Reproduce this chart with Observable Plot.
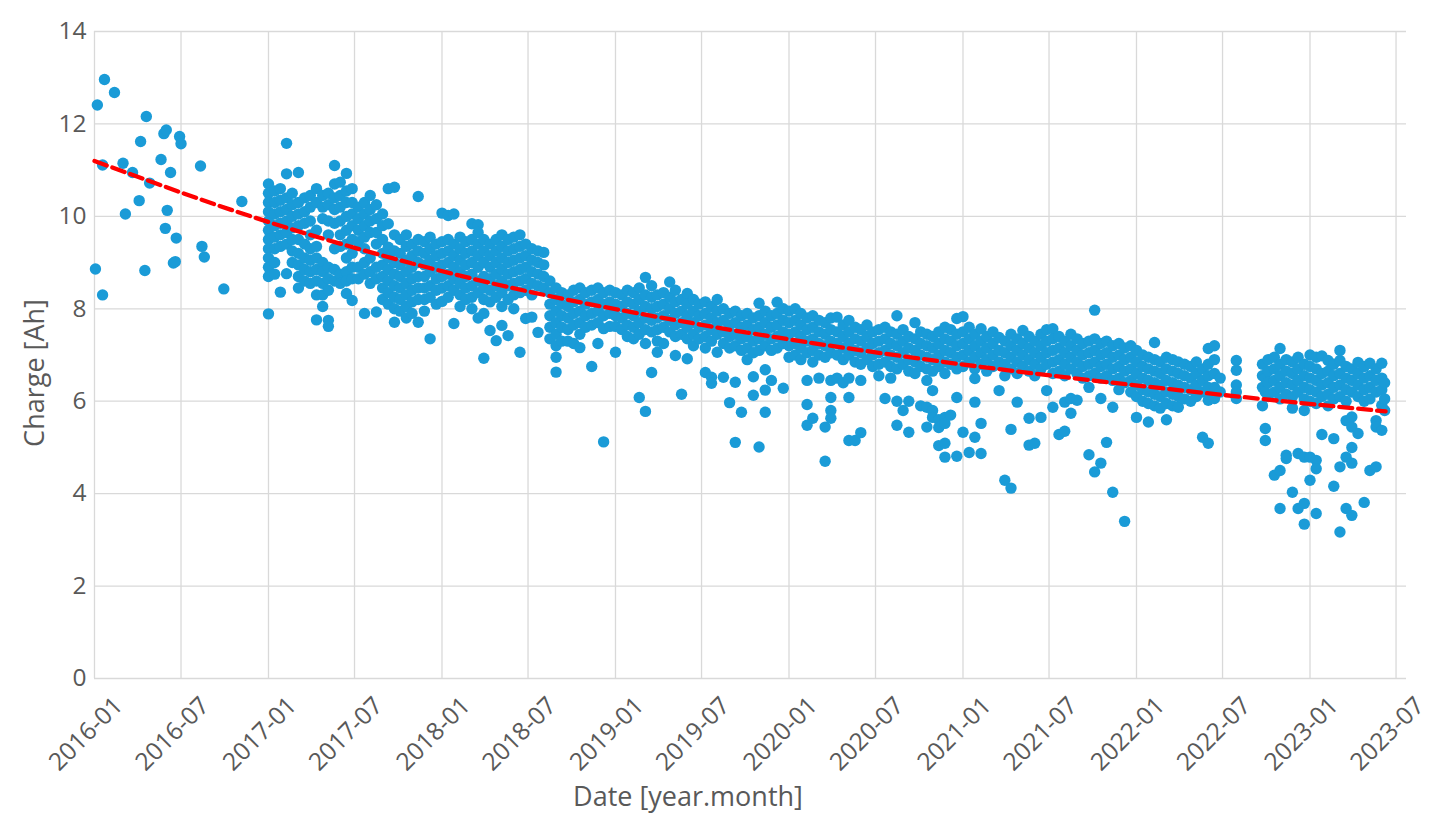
<!DOCTYPE html>
<html><head><meta charset="utf-8">
<script src="https://cdn.jsdelivr.net/npm/d3@7"></script>
<script src="https://cdn.jsdelivr.net/npm/@observablehq/plot@0.6"></script>
<style>body{margin:0;background:#fff;} #chart svg{display:block;}</style>
</head><body><div id="chart"></div>
<script>
const yTicks = [0, 2, 4, 6, 8, 10, 12, 14];
const xTickLabels = ["2016-01","2016-07","2017-01","2017-07","2018-01","2018-07","2019-01","2019-07","2020-01","2020-07","2021-01","2021-07","2022-01","2022-07","2023-01","2023-07"];
const xTitle = "Date [year.month]";
const yTitle = "Charge [Ah]";

// rows: [day of year, charge values measured around that day...]
const c2016 = [[2,8.86],[6,12.41],[17,11.11],[17,8.30],[21,12.96],[42,12.68],[60,11.15],[65,10.05],[80,10.95],[94,10.34],[97,11.62],[106,8.83],[109,12.16],[116,10.72],[140,11.23],[146,11.79],[149,9.74],[151,11.87],[153,10.13],[160,10.95],[166,8.99],[170,9.02],[172,9.53],[179,11.73],[182,11.57],[223,11.09],[226,9.35],[231,9.12],[272,8.43],[310,10.32]];
const c2017 = [
[0,10.7,10.5,10.3,10.1,9.9,9.7,9.5,9.3,9.1,8.9,8.7,7.89],
[13,10.55,10.3,10.05,9.8,9.55,9.3,9.0,8.75],
[25,10.6,10.35,10.1,9.85,9.6,9.35,8.36],
[38,11.58,10.92,10.4,10.15,9.9,9.65,9.4,8.76],
[50,10.5,10.25,10.0,9.75,9.5,9.25,9.0],
[63,10.95,10.3,10.05,9.8,9.5,9.2,8.95,8.7,8.45],
[76,10.4,10.1,9.85,9.4,9.1,8.85,8.6],
[88,10.45,10.2,9.9,9.6,9.3,9.05,8.8,8.55],
[101,10.6,10.3,9.7,9.35,9.1,8.85,8.6,8.3,7.76],
[114,10.45,10.2,9.95,9.0,8.8,8.55,8.3,8.05],
[126,10.5,10.25,9.9,9.6,8.9,8.65,8.4,7.75,7.62],
[139,11.1,10.7,10.4,10.15,9.85,9.3,8.85,8.6],
[151,10.74,10.45,10.2,9.9,9.6,9.35,8.75,8.55],
[164,10.93,10.55,10.3,10.0,9.7,9.4,9.1,8.8,8.6,8.33],
[176,10.6,10.3,10.05,9.8,9.5,9.2,8.9,8.65,8.18],
[189,10.2,9.95,9.7,9.45,8.9,8.65],
[202,10.3,10.05,9.8,9.55,9.3,9.0,8.75,7.9],
[214,10.45,10.15,9.9,9.65,9.1,8.8,8.55],
[227,10.25,9.95,9.65,9.4,8.9,8.65,7.93],
[240,10.05,9.8,9.5,9.2,8.95,8.7,8.45,8.2],
[252,10.6,9.84,9.33,9.1,8.85,8.6,8.35,8.1],
[265,10.63,9.6,9.25,9.0,8.75,8.5,8.25,8.0,7.71],
[277,9.5,9.2,8.95,8.7,8.45,8.2,7.95],
[290,9.6,9.35,9.05,8.8,8.55,8.3,8.05,7.8],
[302,9.4,9.15,8.9,8.65,8.4,8.15,7.9],
[315,10.43,9.5,9.25,9.0,8.7,8.45,8.2,7.71],
[328,9.45,9.2,8.95,8.7,8.45,8.2,7.95],
[340,9.55,9.3,9.05,8.8,8.5,8.25,7.35],
[353,9.4,9.15,8.9,8.65,8.4,8.1]];
const c2018 = [
[0,10.07,9.45,9.2,8.95,8.7,8.45,8.16],
[13,10.02,9.5,9.25,9.0,8.75,8.5,8.25],
[25,10.05,9.4,9.15,8.9,8.65,8.4,7.68],
[38,9.55,9.3,9.05,8.8,8.55,8.3,8.05],
[50,9.45,9.2,8.95,8.7,8.45,8.2],
[63,9.84,9.5,9.25,9.0,8.75,8.5,8.25,8.0],
[76,9.82,9.65,9.4,9.15,8.9,8.6,8.35,7.8],
[88,9.5,9.25,9.0,8.7,8.45,8.2,7.9,6.93],
[101,9.4,9.15,8.9,8.65,8.4,8.15,7.53],
[114,9.5,9.25,9.0,8.75,8.5,8.25,7.31],
[126,9.6,9.35,9.1,8.85,8.6,8.35,8.05,7.64],
[139,9.5,9.25,9.0,8.75,8.5,8.2,7.42],
[151,9.55,9.3,9.05,8.8,8.55,8.3,8.0],
[164,9.6,9.35,9.1,8.85,8.6,8.35,7.06],
[176,9.4,9.15,8.9,8.65,8.4,7.79],
[189,9.3,9.05,8.8,8.55,8.3,7.82],
[202,9.25,9.0,8.75,8.5,7.49],
[214,9.22,8.95,8.7,8.45],
[227,8.6,8.35,8.1,7.85,7.6,7.35],
[240,8.45,8.2,7.95,7.7,7.45,7.2,6.95,6.63],
[252,8.35,8.1,7.85,7.6,7.3],
[265,8.3,8.05,7.8,7.55,7.3],
[277,8.4,8.15,7.9,7.65,7.25],
[290,8.45,8.2,7.95,7.7,7.45,7.16],
[302,8.35,8.1,7.85,7.6],
[315,8.4,8.15,7.9,7.65,6.75],
[328,8.45,8.2,7.95,7.7,7.25],
[340,8.35,8.1,7.85,7.57,5.12],
[353,8.4,8.15,7.9,7.62]];
const c2019 = [
[0,8.35,8.1,7.85,7.62,7.06],
[13,8.3,8.05,7.8,7.55],
[25,8.4,8.15,7.9,7.65,7.4],
[38,8.35,8.1,7.85,7.6,7.35],
[50,8.45,8.2,7.95,7.7,7.45,6.08],
[63,8.68,8.3,8.05,7.8,7.55,7.25,5.78],
[76,8.5,8.25,8.0,7.75,7.5,6.62],
[88,8.3,8.05,7.8,7.55,7.3,7.06],
[101,8.35,8.1,7.85,7.6,7.25],
[114,8.58,8.25,8.0,7.75,7.5],
[126,8.4,8.15,7.9,7.65,7.4,6.99],
[139,8.2,7.95,7.7,7.45,6.15],
[151,8.33,8.1,7.85,7.6,7.35,6.92],
[164,8.2,7.95,7.7,7.45,7.2],
[176,8.1,7.85,7.6,7.35],
[189,8.15,7.9,7.65,7.4,7.15,6.62],
[202,8.05,7.8,7.55,7.3,6.52,6.39],
[214,8.2,7.95,7.7,7.45,7.06],
[227,8.0,7.75,7.5,7.25,6.52],
[240,7.9,7.65,7.4,7.15,5.97],
[252,7.95,7.7,7.45,7.2,6.41,5.11],
[265,7.85,7.6,7.35,7.1,5.76],
[277,7.9,7.65,7.4,7.15,6.9],
[290,7.8,7.55,7.3,7.05,6.53,6.13],
[302,8.12,7.85,7.6,7.35,7.1,5.01],
[315,7.95,7.7,7.45,7.2,6.68,6.24,5.76],
[328,7.85,7.6,7.35,7.1,6.45],
[340,8.14,7.9,7.65,7.4,7.15],
[353,8.0,7.75,7.5,7.25,6.28]];
const c2020 = [
[0,7.95,7.7,7.45,7.2,6.95],
[13,8.0,7.75,7.5,7.25,7.0],
[25,7.9,7.65,7.4,7.15,6.9],
[38,7.8,7.55,7.3,7.05,6.45,5.93,5.48],
[50,7.85,7.6,7.35,7.1,6.85,5.63],
[63,7.75,7.5,7.25,7.0,6.5],
[76,7.7,7.45,7.2,6.95,5.44,4.7],
[88,7.8,7.55,7.3,7.05,6.45,6.08,5.8,5.63],
[101,7.82,7.5,7.25,7.0,6.5],
[114,7.65,7.4,7.15,6.9,6.4],
[126,7.75,7.5,7.25,7.0,6.5,6.08,5.15],
[139,7.6,7.35,7.1,6.85,5.15],
[151,7.55,7.3,7.05,6.8,6.45,5.32],
[164,7.65,7.4,7.15,6.9],
[176,7.5,7.25,7.0,6.75],
[189,7.55,7.3,7.05,6.8,6.55],
[202,7.6,7.35,7.1,6.85,6.06],
[214,7.5,7.25,7.0,6.75,6.5],
[227,7.85,7.45,7.2,6.95,6.7,6.0,5.48],
[240,7.55,7.3,7.05,6.8,5.8],
[252,7.4,7.15,6.9,6.65,6.0,5.33],
[265,7.7,7.35,7.1,6.85,6.6],
[277,7.5,7.25,7.0,6.75,5.9],
[290,7.45,7.2,6.95,6.7,6.45,5.87,5.44],
[302,7.4,7.15,6.9,6.65,6.23,5.8,5.65],
[315,7.5,7.25,7.0,6.75,5.6,5.43,5.04],
[328,7.6,7.35,7.1,6.85,6.6,5.65,5.52,5.09,4.79],
[340,7.55,7.3,7.05,6.8,5.7],
[353,7.79,7.45,7.2,6.95,6.7,6.08,4.81]];
const c2021 = [
[0,7.83,7.5,7.25,7.0,6.75,5.33],
[13,7.6,7.35,7.1,6.85,4.89],
[25,7.45,7.2,6.95,6.7,6.49,5.98,5.22],
[38,7.57,7.3,7.05,6.8,5.52,4.87],
[50,7.4,7.15,6.9,6.65],
[63,7.5,7.25,7.0,6.75],
[76,7.38,7.1,6.85,6.23],
[88,7.3,7.05,6.8,6.55,4.29],
[101,7.45,7.2,6.95,6.7,5.39,4.12],
[114,7.35,7.1,6.85,6.6,5.98],
[126,7.53,7.25,7.0,6.75],
[139,7.4,7.15,6.9,6.65,5.63,5.05],
[151,7.3,7.05,6.8,6.55,5.09],
[164,7.45,7.2,6.95,6.7,5.65],
[176,7.55,7.3,7.05,6.8,6.23],
[189,7.57,7.35,7.1,6.85,6.6,5.87],
[202,7.4,7.15,6.9,6.65,5.28],
[214,7.3,7.05,6.8,6.55,5.98,5.35],
[227,7.45,7.2,6.95,6.7,6.06,5.74],
[240,7.35,7.1,6.85,6.6,6.02],
[252,7.25,7.0,6.75,6.5],
[265,7.3,7.05,6.8,6.55,6.3,4.84],
[277,7.97,7.35,7.1,6.85,6.6,4.47],
[290,7.25,7.0,6.75,6.5,6.06,4.66],
[302,7.3,7.05,6.8,6.55,5.11],
[315,7.2,6.95,6.7,6.45,5.87,4.03],
[328,7.25,7.0,6.75,6.5,6.25],
[340,7.15,6.9,6.65,6.4,3.4],
[353,7.2,6.95,6.7,6.45,6.2]];
const c2022 = [
[0,7.1,6.85,6.6,6.35,6.1,5.65],
[13,7.0,6.75,6.5,6.25,6.0],
[25,6.95,6.7,6.45,6.2,5.95,5.55],
[38,7.27,6.9,6.65,6.4,6.15,5.9],
[50,6.85,6.6,6.35,6.1,5.85],
[63,6.95,6.7,6.45,6.2,5.95,5.6],
[76,6.9,6.65,6.4,6.15,5.9],
[88,6.85,6.6,6.35,6.1,5.87],
[101,6.8,6.55,6.3,6.05],
[114,6.75,6.5,6.25,6.0],
[126,6.85,6.6,6.35,6.1],
[139,6.7,6.45,6.2,5.22],
[151,7.14,6.8,6.55,6.3,6.02,5.09],
[164,7.2,6.9,6.6,6.3,6.06],
[176,6.5,6.2],
[210,6.88,6.67,6.35,6.2,6.06],
[265,6.8,6.55,6.3,5.9],
[271,6.5,6.2,5.41,5.15],
[277,6.9,6.65,6.4,6.1],
[290,6.95,6.7,6.45,6.2,4.4],
[302,7.14,6.8,6.55,6.3,6.05,4.5,3.68],
[315,6.9,6.65,6.4,6.15,4.83,4.76],
[328,6.85,6.6,6.35,6.1,5.85,4.03],
[340,6.95,6.7,6.45,6.2,4.87,3.68],
[353,6.8,6.55,6.3,6.05,5.8,4.79,3.79,3.34]];
const c2023 = [
[0,7.0,6.75,6.5,6.25,6.0,4.79,4.29],
[13,6.95,6.7,6.45,6.2,5.95,4.72,4.54,3.57],
[25,6.98,6.6,6.35,6.1,5.28],
[38,6.88,6.65,6.4,6.15,5.9],
[50,6.8,6.55,6.3,6.05,5.19,4.16],
[63,7.1,6.88,6.6,6.35,6.1,4.58,3.17],
[76,6.75,6.5,6.25,6.0,5.58,4.79,3.68],
[88,6.7,6.45,6.2,5.66,5.44,5.0,4.66,3.53],
[101,6.84,6.6,6.35,6.1,5.3],
[114,6.75,6.5,6.25,6.0,3.81],
[126,6.82,6.55,6.3,6.05,4.5],
[139,6.7,6.45,6.2,5.58,5.44,4.58],
[151,6.82,6.5,6.25,5.91,5.37],
[157,6.4,6.05,5.8]];

const trendDates = ["2016-01-01","2016-12-01","2018-03-23","2019-07-20","2020-11-15","2022-03-13","2023-06-09"];
const trendValues = [11.2, 9.98, 8.61, 7.62, 6.86, 6.26, 5.78];

const years = [[2016, c2016],[2017, c2017],[2018, c2018],[2019, c2019],[2020, c2020],[2021, c2021],[2022, c2022],[2023, c2023]];
const points = years.flatMap(([yr, rows]) => rows.flatMap(([day, ...vals]) =>
  vals.map(v => ({date: new Date(Date.UTC(yr, 0, 1) + day * 864e5), value: v}))));
const trend = trendDates.map((d, i) => ({date: new Date(d + "T00:00:00Z"), value: trendValues[i]}));
const parseM = d3.utcParse("%Y-%m");
const xTicks = xTickLabels.map(parseM);

const W = 1433, H = 828;
const FONT = "'Open Sans', Lato, sans-serif";
const chart = Plot.plot({
  width: W, height: H,
  marginLeft: 94, marginRight: 27, marginTop: 31, marginBottom: 150,
  style: {fontFamily: FONT, fontSize: "24.5px", color: "#595959", background: "#ffffff"},
  x: {type: "utc", domain: [new Date(Date.UTC(2016, 0, 1)), new Date(Date.UTC(2023, 6, 23))]},
  y: {domain: [0, 14]},
  marks: [
    Plot.gridY(yTicks, {stroke: "#d9d9d9", strokeOpacity: 1, strokeWidth: 1.3}),
    Plot.gridX(xTicks, {stroke: "#d9d9d9", strokeOpacity: 1, strokeWidth: 1.3}),
    Plot.axisY(yTicks, {tickSize: 0, tickPadding: 8, label: null, fontSize: 24.5}),
    Plot.axisX(xTicks, {tickSize: 0, tickPadding: 0, tickRotate: -45, tickFormat: d3.utcFormat("%Y-%m"), label: null, fontSize: 24.5, dx: 24, dy: 23}),
    Plot.dot(points, {x: "date", y: "value", r: 5.7, fill: "#1a9bd7", stroke: "none"}),
    Plot.line(trend, {x: "date", y: "value", stroke: "#ff0000", strokeWidth: 4.3, strokeDasharray: "13,6", curve: "monotone-x"})
  ]
});
const svg = d3.select(chart);
svg.append("text").attr("transform", "translate(44,373) rotate(-90)")
  .attr("text-anchor", "middle")
  .attr("fill", "#595959").style("font-family", FONT).style("font-size", "27px").text(yTitle);
svg.append("text").attr("x", 688).attr("y", 806)
  .attr("text-anchor", "middle")
  .attr("fill", "#595959").style("font-family", FONT).style("font-size", "27px").text(xTitle);
document.getElementById("chart").appendChild(chart);
</script>
</body></html>
